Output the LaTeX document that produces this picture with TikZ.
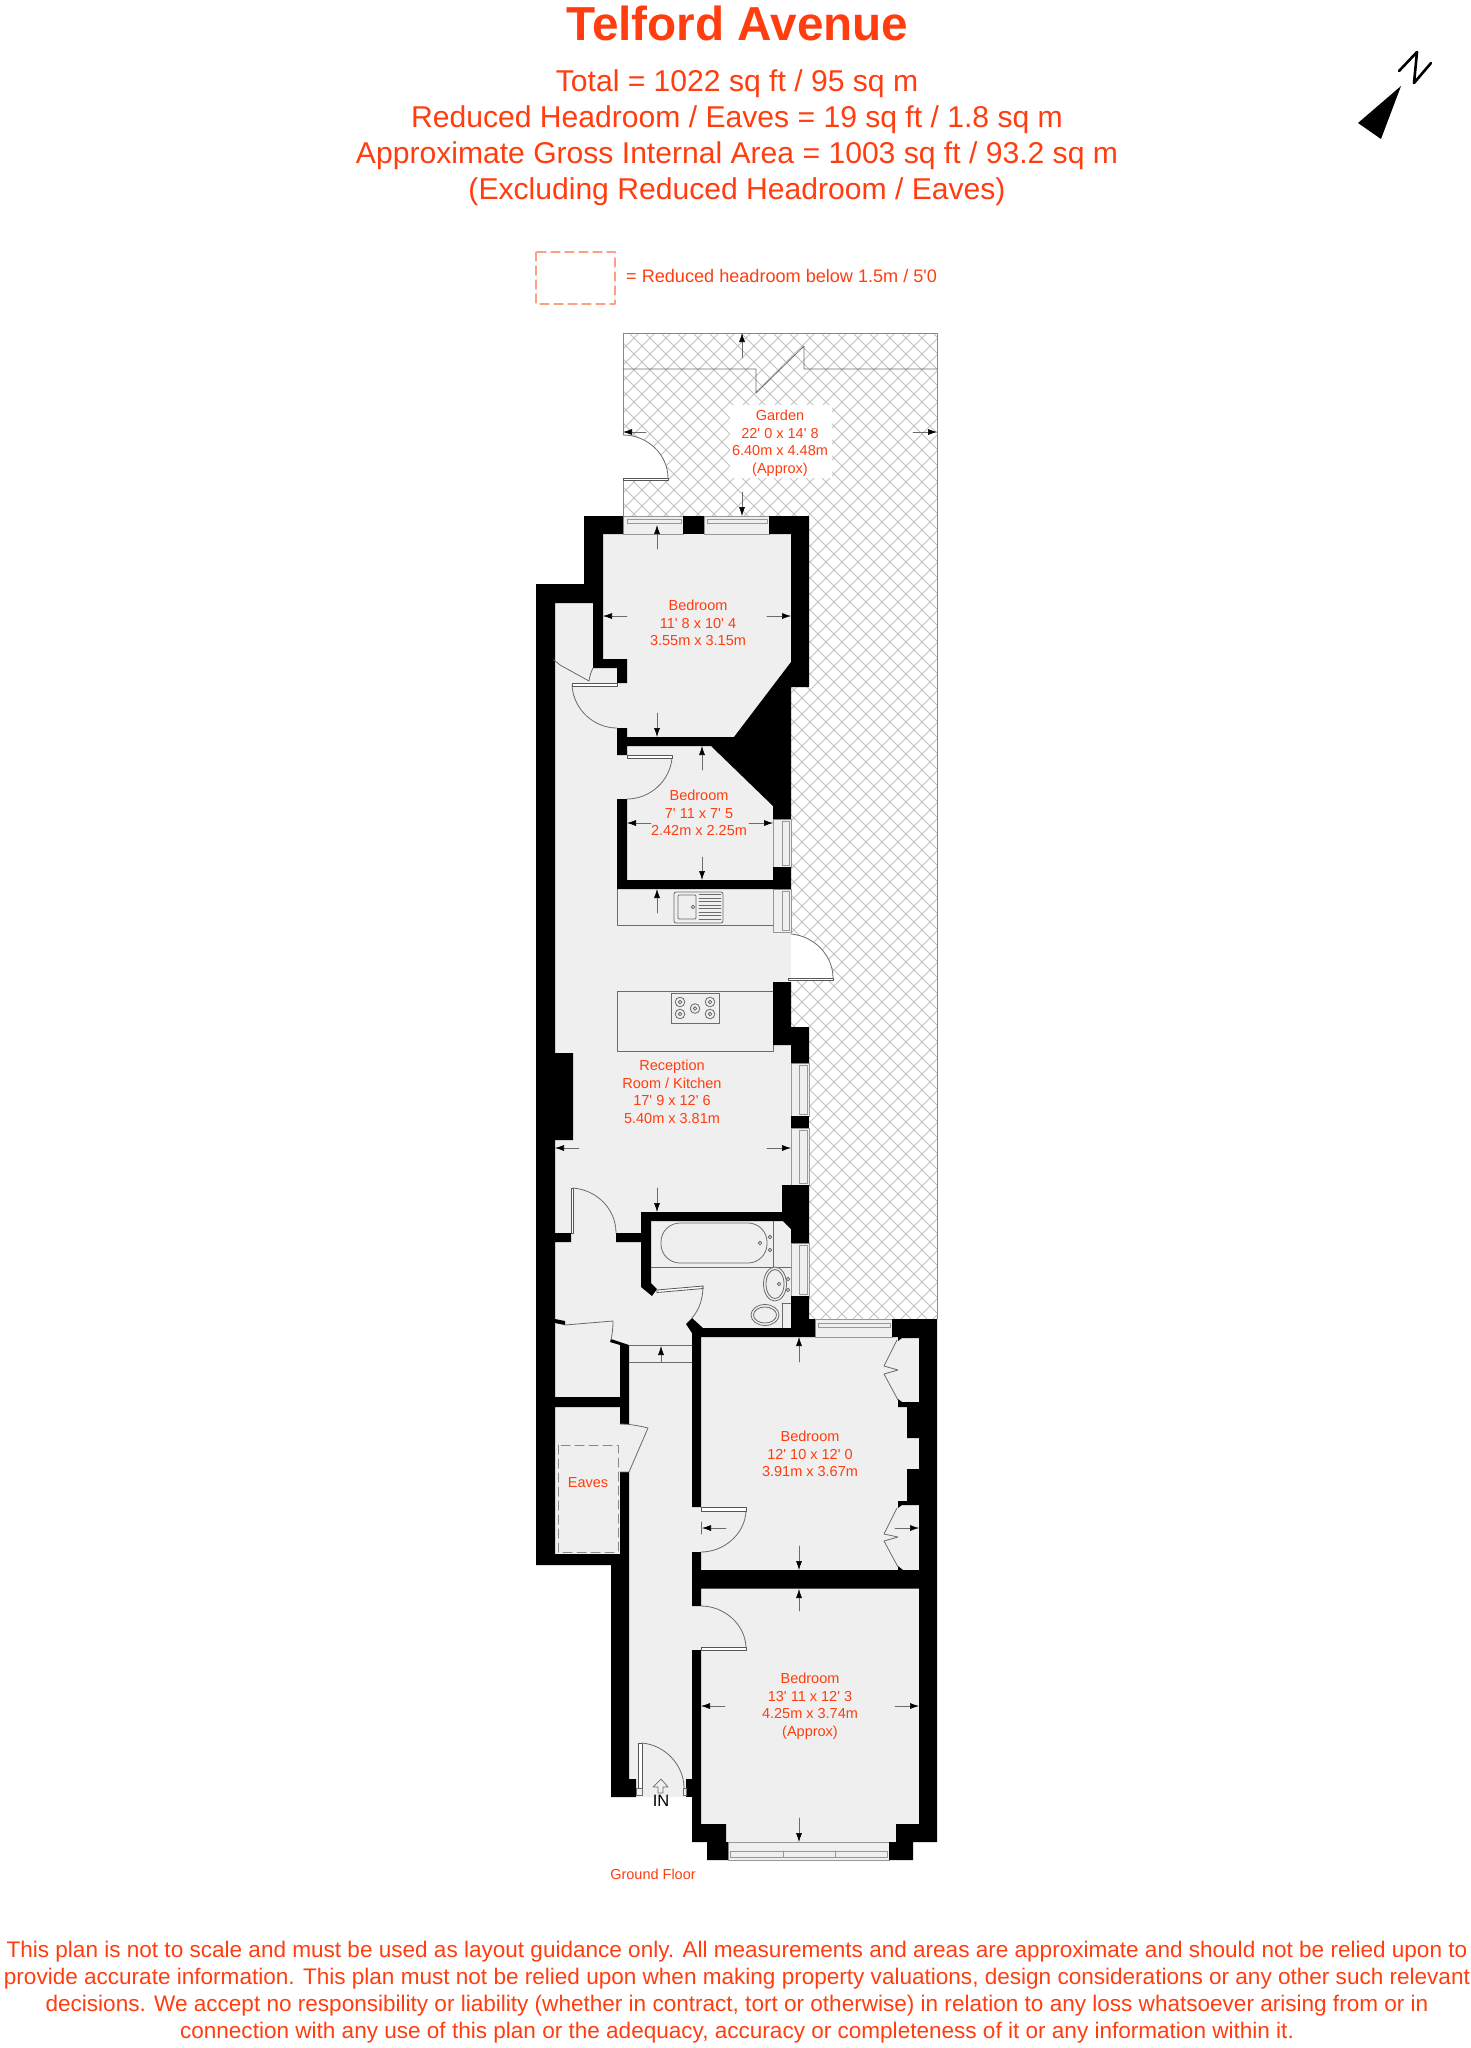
\documentclass[tikz,border=0pt]{standalone}
\usepackage{fontspec}
\usepackage{xcolor}
\usetikzlibrary{arrows.meta}
\newfontfamily\planfont{Liberation Sans}
\definecolor{planred}{rgb}{1,0.24,0.06}
\definecolor{floorgrey}{rgb}{0.937,0.937,0.937}
\definecolor{hatchgrey}{rgb}{0.76,0.76,0.76}
\definecolor{lineGrey}{rgb}{0.42,0.42,0.42}
\definecolor{dashsalmon}{rgb}{1,0.62,0.52}
\tikzset{
	wall/.style={fill=black, draw=none},
	fitting/.style={draw=lineGrey, line width=0.8pt},
	window/.style={draw=lineGrey!70, line width=0.8pt},
	doorleaf/.style={draw=lineGrey!80!black, line width=0.8pt, fill=white},
	dimarrow/.style={draw=lineGrey, line width=0.6pt, -{Latex[length=9pt,width=6pt,black]}},
	roomlabel/.style={text=planred, align=center, inner sep=0pt, font=\planfont\fontsize{14.5}{17.5}\selectfont},
	headline/.style={text=planred, align=center, inner sep=0pt, font=\planfont\fontsize{30.1}{36}\selectfont},
	smallprint/.style={text=planred, align=center, inner sep=0pt, font=\planfont\fontsize{22.55}{27}\selectfont}
}

\begin{document}
\begin{tikzpicture}[line cap=round,line join=round,x=1pt,y=-1pt]
	\useasboundingbox (0,0) rectangle (1470,2048);

	\begin{scope}
		\clip (623,333) rectangle (937,1319);
		\foreach \k in {0,...,82} {
			\draw [hatchgrey, line width=1pt] (623,{956+16*\k-623}) -- (937,{956+16*\k-937});
			\draw [hatchgrey, line width=1pt] (623,{623+696-16*\k}) -- (937,{937+696-16*\k});
		}
	\end{scope}
	\draw [lineGrey!80, line width=0.9pt] (623,516) -- (623,333) -- (937,333) -- (937,1319);
	\draw [lineGrey, line width=0.8pt] (623,369) -- (756,369) -- (756,393) -- (804,346) -- (804,369) -- (937,369);

	\fill [white] (730,405) rectangle (832,478);
	\fill [white] (622,435) .. controls (648,435) and (668,455) .. (668,478) -- (622,480) -- cycle;
	\draw [doorleaf] (623,478) rectangle (668,480);
	\draw [fitting] (623,435) .. controls (648,435) and (668,455) .. (668,478);

	\fill [floorgrey] (536,584) -- (584,584) -- (584,516) -- (809,516) -- (809,687) -- (791,687) -- (791,1027) -- (809,1027) -- (809,1319) -- (937,1319) -- (937,1842) -- (889,1842) -- (889,1860) -- (707,1860) -- (707,1842) -- (692,1842) -- (692,1797) -- (611,1797) -- (611,1565) -- (536,1565) -- cycle;

	\fill [white] (791,934) .. controls (814,936) and (833,955) .. (833,978) -- (791,980) -- cycle;
	\draw [doorleaf] (788,978) rectangle (833,980);
	\draw [fitting] (791,934) .. controls (814,936) and (833,955) .. (833,978);

	% windows
	\draw [window] (623,516) rectangle (683,534);
	\draw [window] (627,519) rectangle (681,523);
	\draw [window] (704,516) rectangle (769,534);
	\draw [window] (707,519) rectangle (767,523);
	\draw [window] (773,819) rectangle (791,867);
	\draw [window] (782,821) rectangle (789,865);
	\draw [window] (773,889) rectangle (791,932);
	\draw [window] (782,891) rectangle (789,930);
	\draw [window] (791,1063) rectangle (809,1116);
	\draw [window] (799,1065) rectangle (807,1114);
	\draw [window] (791,1128) rectangle (809,1185);
	\draw [window] (799,1130) rectangle (807,1183);
	\draw [window] (791,1243) rectangle (809,1296);
	\draw [window] (799,1245) rectangle (807,1294);
	\draw [window] (815,1319) rectangle (892,1337);
	\draw [window] (818,1323) rectangle (890,1327);
	\draw [window] (728,1842) rectangle (889,1860);
	\draw [window] (730,1851) rectangle (887,1857);
	\draw [window] (783,1851) -- (783,1857);
	\draw [window] (835,1851) -- (835,1857);

	% kitchen
	\draw [fitting] (617,889) -- (617,925) -- (773,925);
	\draw [fitting, rounded corners=2pt] (674,892) rectangle (723,923);
	\draw [fitting, rounded corners=1pt] (678,895) rectangle (696,919);
	\draw [fitting] (693,907) circle (1.8pt);
	\foreach \y in {894.5,898,...,921} {
		\draw [lineGrey, line width=0.6pt] (699,\y) -- (721,\y);
	}
	\draw [fitting] (617,991) rectangle (773,1051);
	\draw [fitting] (671,993) rectangle (719,1023);
	\foreach \cx/\cy in {680/1002,710/1002,680/1014,710/1014,695/1008.5} {
		\draw [fitting] (\cx,\cy) circle (4.8pt);
		\draw [fitting] (\cx,\cy) circle (1.8pt);
	}

	% bathroom
	\draw [fitting, rounded corners=19pt] (661,1223) rectangle (767,1263);
	\draw [fitting] (773,1221) -- (773,1267);
	\draw [fitting] (651,1267) -- (791,1267);
	\draw [fitting] (770,1237) circle (1.8pt);
	\draw [fitting] (770,1250) circle (1.8pt);
	\draw [fitting] (760,1243) circle (1.8pt);
	\draw [fitting, fill=floorgrey] (775,1284) ellipse (11.5pt and 17pt);
	\draw [fitting] (775,1284) ellipse (9pt and 14.5pt);
	\draw [fitting] (788,1279) circle (1.8pt);
	\draw [fitting] (788,1290) circle (1.8pt);
	\draw [fitting] (779,1284) circle (1.8pt);
	\draw [fitting] (782,1303) -- (791,1303);
	\draw [fitting] (782,1303) -- (782,1328);
	\draw [fitting] (765,1315) ellipse (14pt and 10.5pt);
	\draw [fitting] (765,1315) ellipse (11.5pt and 8pt);

	% walls
	\fill [wall] (584,516) -- (623,516) -- (623,534) -- (603,534) -- (603,659) -- (627,659) -- (627,683) -- (617,683) -- (617,668) -- (593,668) -- (593,603) -- (555,603) -- (555,1053) -- (573,1053) -- (573,1140) -- (555,1140) -- (555,1233) -- (571,1233) -- (571,1242) -- (555,1242) -- (555,1397) -- (620,1397) -- (620,1345) -- (610,1342) -- (611,1339) -- (629,1345) -- (629,1424) -- (620,1424) -- (620,1407) -- (555,1407) -- (555,1554) -- (620,1554) -- (620,1472) -- (629,1472) -- (629,1779) -- (636,1779) -- (636,1797) -- (611,1797) -- (611,1565) -- (536,1565) -- (536,584) -- (584,584) -- cycle;
	\fill [wall] (683,516) rectangle (704,534);
	\fill [wall] (769,516) -- (809,516) -- (809,687) -- (791,687) -- (791,819) -- (773,819) -- (773,806) -- (711,746) -- (627,746) -- (627,755) -- (617,755) -- (617,728) -- (627,728) -- (627,737) -- (734,737) -- (791,662) -- (791,534) -- (769,534) -- cycle;
	\fill [wall] (617,799) -- (627,799) -- (627,880) -- (773,880) -- (773,867) -- (791,867) -- (791,889) -- (617,889) -- cycle;
	\fill [wall] (773,982) -- (791,982) -- (791,1027) -- (809,1027) -- (809,1063) -- (791,1063) -- (791,1045) -- (773,1045) -- cycle;
	\fill [wall] (791,1116) rectangle (809,1128);
	\fill [wall] (641,1212) -- (782,1212) -- (782,1185) -- (809,1185) -- (809,1243) -- (791,1243) -- (791,1229) -- (783,1221) -- (651,1221) -- (651,1283) -- (657,1289) -- (652,1296) -- (641,1287) -- (641,1242) -- (616,1242) -- (616,1233) -- (641,1233) -- cycle;
	\fill [wall] (703,1328) -- (791,1328) -- (791,1296) -- (809,1296) -- (809,1319) -- (815,1319) -- (815,1337) -- (701,1337) -- (701,1507) -- (692,1507) -- (692,1333) -- (686,1324) -- (692,1318) -- cycle;
	\fill [wall] (892,1319) -- (937,1319) -- (937,1842) -- (913,1842) -- (913,1860) -- (889,1860) -- (889,1842) -- (896,1842) -- (896,1824) -- (919,1824) -- (919,1588.5) -- (701,1588.5) -- (701,1606) -- (692,1606) -- (692,1552) -- (701,1552) -- (701,1570) -- (903,1570) -- (898,1566) -- (898,1570) -- (919,1570) -- (919,1505) -- (902,1505) -- (898,1508) -- (898,1501) -- (907,1501) -- (907,1469) -- (919,1469) -- (919,1438) -- (907,1438) -- (907,1407) -- (898,1407) -- (898,1399) -- (902,1402) -- (919,1402) -- (919,1338) -- (902,1338) -- (898,1341) -- (898,1337) -- (892,1337) -- cycle;
	\fill [wall] (692,1650) -- (701,1650) -- (701,1824) -- (726,1824) -- (726,1842) -- (728,1842) -- (728,1860) -- (707,1860) -- (707,1842) -- (692,1842) -- cycle;
	\fill [wall] (686,1779) rectangle (692,1797);

	% doors
	\draw [fitting] (554,660) -- (560,665) -- (589,681) .. controls (590,675) and (591,672) .. (593,668);
	\draw [doorleaf] (572,683) rectangle (617,686);
	\draw [fitting] (572,686) .. controls (574,710) and (594,728) .. (617,728);
	\draw [doorleaf] (627,755) rectangle (672,758);
	\draw [fitting] (672,758) .. controls (670,781) and (650,799) .. (627,799);
	\draw [doorleaf] (571,1188) rectangle (573.5,1233);
	\draw [fitting] (573,1188) .. controls (597,1190) and (616,1209) .. (616,1233);
	\draw [doorleaf] (657,1290) -- (703,1286) -- (703,1288.5) -- (657,1292.5) -- cycle;
	\draw [fitting] (703,1286) .. controls (703,1299) and (699,1310) .. (692,1318);
	\fill [black] (555,1319) -- (565,1321) -- (565,1325) -- (555,1323) -- cycle;
	\draw [fitting] (565,1325) -- (613,1321) .. controls (613,1329) and (612,1335) .. (611,1340);
	\draw [fitting] (629,1345) -- (692,1345) (629,1362) -- (692,1362);
	\draw [fitting] (620,1424) .. controls (630,1424) and (640,1426) .. (648,1428) -- (629,1472) -- (620,1472);
	\draw [doorleaf] (701,1507) rectangle (746,1511);
	\draw [fitting] (746,1511) .. controls (745,1534) and (724,1552) .. (701,1552);
	\draw [fitting] (701,1522) -- (701,1534);
	\draw [doorleaf] (701,1650) rectangle (746,1647);
	\draw [fitting] (701,1606) .. controls (724,1606) and (745,1624) .. (746,1647);
	\draw [doorleaf] (638,1743) rectangle (642,1788);
	\draw [fitting] (642,1743) .. controls (665,1745) and (684,1765) .. (684,1788);
	\draw [fitting] (636,1788) rectangle (642,1795);
	\draw [fitting] (683,1788) rectangle (686,1795);

	% wardrobes
	\draw [fitting] (897,1340) -- (884,1366) -- (898,1370) -- (884,1374) -- (898,1400);
	\draw [fitting] (897,1508) -- (884,1534) -- (898,1537) -- (884,1541) -- (898,1567);

	% arrows
	\draw [dimarrow] (742,358) -- (742,333);
	\draw [dimarrow] (742,492) -- (742,516);
	\draw [dimarrow] (646,432) -- (623,432);
	\draw [dimarrow] (913,432) -- (937,432);
	\draw [dimarrow] (657,549) -- (657,525);
	\draw [dimarrow] (627,616) -- (603,616);
	\draw [dimarrow] (767,616) -- (791,616);
	\draw [dimarrow] (657,713) -- (657,737);
	\draw [dimarrow] (702,770) -- (702,746);
	\draw [dimarrow] (651,823) -- (627,823);
	\draw [dimarrow] (749,823) -- (773,823);
	\draw [dimarrow] (702,857) -- (702,880);
	\draw [dimarrow] (657,913) -- (657,889);
	\draw [dimarrow] (579,1148) -- (555,1148);
	\draw [dimarrow] (767,1148) -- (791,1148);
	\draw [dimarrow] (657,1188) -- (657,1212);
	\draw [dimarrow] (661,1362) -- (661,1346);
	\draw [dimarrow] (799,1362) -- (799,1337);
	\draw [dimarrow] (799,1546) -- (799,1570);
	\draw [dimarrow] (726,1528) -- (702,1528);
	\draw [dimarrow] (895,1528) -- (919,1528);
	\draw [dimarrow] (799,1611) -- (799,1589);
	\draw [dimarrow] (799,1818) -- (799,1842);
	\draw [dimarrow] (725,1706) -- (701,1706);
	\draw [dimarrow] (895,1706) -- (919,1706);

	% entrance
	\draw [lineGrey, line width=0.7pt] (658,1793) -- (658,1787) -- (653,1787) -- (661,1779) -- (668,1787) -- (663,1787) -- (663,1793) -- cycle;
	\node (inlabel) at (661,1801) [inner sep=0pt, font=\planfont\fontsize{16.5}{16.5}\selectfont] {IN};

	% legend
	\draw [dashsalmon, line width=1.1pt, dash pattern=on 9pt off 5pt] (536,252) rectangle (615,304);
	\draw [lineGrey!80, line width=1pt, dash pattern=on 9pt off 5pt] (558,1445) rectangle (618,1552);

	% north
	\fill [black] (1401,86) -- (1358,123) -- (1381,139) -- cycle;
	\draw [black, line width=2.6pt] (1399,71) -- (1417,52) -- (1414,83) -- (1431,63);

	% labels
	\node (title) at (737.5,23) [text=planred, inner sep=0pt, font=\planfont\bfseries\fontsize{47.7}{47.7}\selectfont] {Telford Avenue};
	\node (areas) at (737,138) [headline] {Total = 1022 sq ft / 95 sq m\\Reduced Headroom / Eaves = 19 sq ft / 1.8 sq m\\Approximate Gross Internal Area = 1003 sq ft / 93.2 sq m\\(Excluding Reduced Headroom / Eaves)};
	\node (legendtext) at (626,276) [anchor=west, text=planred, inner sep=0pt, font=\planfont\fontsize{18.1}{18.1}\selectfont] {= Reduced headroom below 1.5m / 5'0};
	\node (garden) at (780,443) [roomlabel] {Garden\\22' 0 x 14' 8\\6.40m x 4.48m\\(Approx)};
	\node (bedroomone) at (698,623) [roomlabel] {Bedroom\\11' 8 x 10' 4\\3.55m x 3.15m};
	\node (bedroomtwo) at (699,813) [roomlabel] {Bedroom\\7' 11 x 7' 5\\2.42m x 2.25m};
	\node (reception) at (672,1092) [roomlabel] {Reception\\Room / Kitchen\\17' 9 x 12' 6\\5.40m x 3.81m};
	\node (bedroomthree) at (810,1454) [roomlabel] {Bedroom\\12' 10 x 12' 0\\3.91m x 3.67m};
	\node (bedroomfour) at (810,1706) [roomlabel] {Bedroom\\13' 11 x 12' 3\\4.25m x 3.74m\\(Approx)};
	\node (eaves) at (588,1483) [roomlabel] {Eaves};
	\node (groundfloor) at (653,1874) [roomlabel] {Ground Floor};
	\node (disclaimer) at (737,1992) [smallprint] {This plan is not to scale and must be used as layout guidance only. All measurements and areas are approximate and should not be relied upon to\\provide accurate information. This plan must not be relied upon when making property valuations, design considerations or any other such relevant\\decisions. We accept no responsibility or liability (whether in contract, tort or otherwise) in relation to any loss whatsoever arising from or in\\connection with any use of this plan or the adequacy, accuracy or completeness of it or any information within it.};
\end{tikzpicture}
\end{document}
